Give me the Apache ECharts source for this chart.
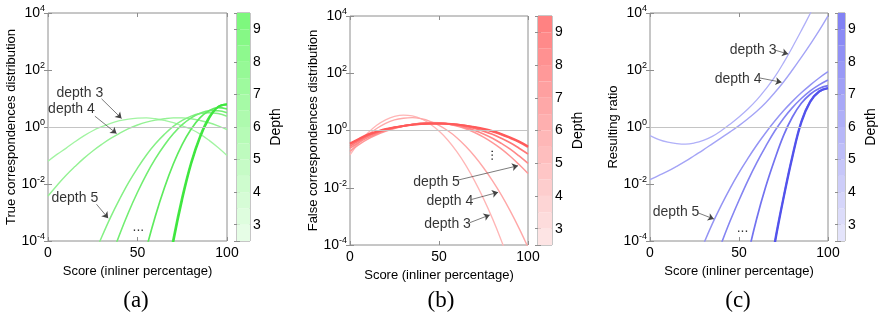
<!DOCTYPE html>
<html>
<head>
<meta charset="utf-8">
<script src="https://cdn.jsdelivr.net/npm/echarts@6/dist/echarts.min.js"></script>
<style>
  html, body { margin: 0; padding: 0; background: #fff; }
  #chart { width: 879px; height: 322px; }
</style>
</head>
<body>
<div id="chart"></div>
<script>
const score = [0, 5, 10, 15, 20, 25, 30, 35, 40, 45, 50, 55, 60, 65, 70, 75, 80, 85, 90, 95, 100];
const depthBandEdges = [2.5, 3, 3.5, 4, 4.5, 5, 5.5, 6, 6.5, 7, 7.5, 8, 8.5, 9, 9.5];

// (a) true correspondences distribution, log10 values, depth 3..9
const trueD3 = [-1.2, -0.96, -0.75, -0.52, -0.31, -0.13, 0.01, 0.13, 0.22, 0.28, 0.31, 0.32, 0.29, 0.23, 0.15, 0.04, -0.08, -0.25, -0.47, -0.72, -1.0];
const trueD4 = [-2.42, -2.05, -1.70, -1.39, -1.10, -0.84, -0.61, -0.40, -0.22, -0.06, 0.07, 0.17, 0.24, 0.29, 0.32, 0.32, 0.29, 0.23, 0.15, 0.04, -0.09];
const trueD5 = [null, null, null, null, null, -4.61, -3.86, -3.16, -2.53, -1.95, -1.44, -0.98, -0.59, -0.26, 0.02, 0.23, 0.38, 0.47, 0.50, 0.47, 0.38];
const trueD6 = [null, null, null, null, null, null, null, -4.63, -3.77, -2.99, -2.29, -1.66, -1.11, -0.64, -0.24, 0.08, 0.32, 0.48, 0.57, 0.57, 0.50];
const trueD7 = [null, null, null, null, null, null, null, null, null, null, -5.52, -4.25, -3.12, -2.14, -1.30, -0.61, -0.07, 0.33, 0.57, 0.68, 0.63];
const trueD8 = [null, null, null, null, null, null, null, null, null, null, null, null, null, -5.67, -3.91, -2.43, -1.22, -0.30, 0.35, 0.71, 0.79];
const trueD9 = [null, null, null, null, null, null, null, null, null, null, null, null, null, -5.85, -4.05, -2.55, -1.30, -0.36, 0.30, 0.70, 0.80];

// (b) false correspondences distribution, log10 values
const falseD3 = [-0.85, -0.43, -0.09, 0.18, 0.37, 0.49, 0.54, 0.51, 0.41, 0.23, -0.02, -0.34, -0.74, -1.21, -1.76, -2.38, -3.07, -3.84, -4.68, -5.6, -6.59];
const falseD4 = [-0.75, -0.42, -0.15, 0.07, 0.25, 0.37, 0.43, 0.45, 0.41, 0.32, 0.18, -0.01, -0.25, -0.55, -0.90, -1.30, -1.75, -2.25, -2.81, -3.42, -4.08];
const falseD5 = [-0.72, -0.49, -0.30, -0.15, -0.03, 0.07, 0.15, 0.21, 0.26, 0.28, 0.27, 0.23, 0.16, 0.06, -0.07, -0.23, -0.42, -0.64, -0.90, -1.19, -1.50];
const falseD6 = [-0.62, -0.42, -0.25, -0.11, 0.0, 0.09, 0.16, 0.21, 0.25, 0.27, 0.26, 0.23, 0.18, 0.10, 0.0, -0.12, -0.27, -0.45, -0.65, -0.89, -1.15];
const falseD7 = [-0.55, -0.36, -0.20, -0.08, 0.02, 0.10, 0.16, 0.21, 0.24, 0.25, 0.25, 0.23, 0.20, 0.14, 0.07, -0.02, -0.13, -0.27, -0.43, -0.62, -0.82];
const falseD8 = [-0.48, -0.31, -0.16, -0.05, 0.04, 0.11, 0.16, 0.20, 0.23, 0.25, 0.25, 0.24, 0.21, 0.17, 0.11, 0.04, -0.04, -0.14, -0.27, -0.41, -0.58];
const falseD9 = [-0.45, -0.29, -0.14, -0.04, 0.05, 0.11, 0.16, 0.20, 0.23, 0.24, 0.24, 0.23, 0.21, 0.17, 0.12, 0.06, -0.02, -0.12, -0.24, -0.38, -0.55];

// (c) resulting ratio, log10 values
const ratioD3 = [-0.30, -0.44, -0.53, -0.58, -0.60, -0.56, -0.47, -0.33, -0.13, 0.10, 0.35, 0.63, 0.95, 1.33, 1.75, 2.25, 2.80, 3.38, 3.98, 4.6, 5.2];
const ratioD4 = [-1.85, -1.70, -1.55, -1.38, -1.20, -1.00, -0.80, -0.59, -0.38, -0.17, 0.05, 0.29, 0.55, 0.85, 1.20, 1.58, 2.00, 2.44, 2.90, 3.38, 3.90];
const ratioD5 = [null, null, null, null, null, -4.9, -4.12, -3.40, -2.75, -2.15, -1.60, -1.10, -0.63, -0.20, 0.20, 0.57, 0.90, 1.20, 1.47, 1.72, 1.94];
const ratioD6 = [null, null, null, null, null, null, null, -4.95, -4.10, -3.30, -2.57, -1.88, -1.25, -0.68, -0.15, 0.30, 0.68, 1.00, 1.27, 1.48, 1.65];
const ratioD7 = [null, null, null, null, null, null, null, null, null, null, -6.0, -4.5, -3.2, -2.1, -1.15, -0.30, 0.35, 0.83, 1.15, 1.35, 1.45];
const ratioD8 = [null, null, null, null, null, null, null, null, null, null, null, null, null, -6.0, -4.05, -2.45, -1.0, 0.2, 0.9, 1.25, 1.37];
const ratioD9 = [null, null, null, null, null, null, null, null, null, null, null, null, null, -6.1, -4.15, -2.52, -1.07, 0.15, 0.88, 1.24, 1.36];

// annotations: label [score, log10], arrow from -> to
const trueNotes = [
  { text: 'depth 3', at: [17.8, 1.2], from: [29.9, 0.99], to: [41.1, 0.30] },
  { text: 'depth 4', at: [13.1, 0.61], from: [26.2, 0.38], to: [38.3, -0.23] },
  { text: 'depth 5', at: [15, -2.5], from: [27.1, -2.71], to: [33.6, -3.2] }
];
const falseNotes = [
  { text: 'depth 5', at: [48.6, -1.79], from: [60.8, -1.73], to: [94.4, -1.23] },
  { text: 'depth 4', at: [56.1, -2.46], from: [68.2, -2.41], to: [83.2, -2.16] },
  { text: 'depth 3', at: [54.8, -3.27], from: [67.3, -3.22], to: [78.5, -2.95] }
];
const ratioNotes = [
  { text: 'depth 3', at: [57.9, 2.70], from: [70.1, 2.70], to: [77.6, 2.56] },
  { text: 'depth 4', at: [49.5, 1.68], from: [61.7, 1.72], to: [73.9, 1.57] },
  { text: 'depth 5', at: [14.6, -3.0], from: [26.5, -3.0], to: [35.9, -3.23] }
];
const trueDots = [50.5, -3.51];
const falseDots = [78.1, -0.86];
const ratioDots = [52, -3.54];

const FONT = '"Liberation Sans", Arial, Helvetica, sans-serif';
const FRAME = '#8e8e8e';
const widths = [1.3, 1.4, 1.5, 1.6, 1.7, 1.9, 2.0];

const panels = [
  {
    curves: [trueD3, trueD4, trueD5, trueD6, trueD7, trueD8, trueD9],
    notes: trueNotes, dots: trueDots, dotsRotate: 0,
    yName: 'True correspondences distribution', tag: '(a)', tagX: 136,
    grid: { left: 48, top: 13, width: 179, height: 228 },
    bar: { left: 237, top: 13, width: 13, height: 228 },
    colors: ['#a2f4a2', '#94f294', '#84f084', '#72ee72', '#5eeb5e', '#4ce94c', '#3ee63e'],
    band: ['#e6fde6', '#7ef87e']
  },
  {
    curves: [falseD3, falseD4, falseD5, falseD6, falseD7, falseD8, falseD9],
    notes: falseNotes, dots: falseDots, dotsRotate: 90,
    yName: 'False correspondences distribution', tag: '(b)', tagX: 441,
    grid: { left: 350, top: 16, width: 178, height: 229 },
    bar: { left: 538, top: 16, width: 14, height: 229 },
    colors: ['#ffb6b6', '#ffa8a8', '#ff9898', '#ff8888', '#ff7777', '#ff6666', '#ff5a5a'],
    band: ['#fde4e4', '#ff8282']
  },
  {
    curves: [ratioD3, ratioD4, ratioD5, ratioD6, ratioD7, ratioD8, ratioD9],
    notes: ratioNotes, dots: ratioDots, dotsRotate: 0,
    yName: 'Resulting ratio', tag: '(c)', tagX: 738,
    grid: { left: 650, top: 13, width: 178, height: 228 },
    bar: { left: 838, top: 13, width: 14, height: 228 },
    colors: ['#b0b0f8', '#a4a4f6', '#9494f4', '#8484f2', '#7272f0', '#6060ee', '#5252ec'],
    band: ['#e4e4fb', '#8282f4']
  }
];

function hexToRgb(h) {
  return [1, 3, 5].map(i => parseInt(h.slice(i, i + 2), 16));
}
function mix(a, b, t) {
  const ca = hexToRgb(a), cb = hexToRgb(b);
  return 'rgb(' + ca.map((v, i) => Math.round(v + (cb[i] - v) * t)).join(',') + ')';
}
const pow10 = e => Math.pow(10, e);

const option = { animation: false, grid: [], xAxis: [], yAxis: [], series: [], graphic: [] };
const tickStyle = { inside: true, length: 4, lineStyle: { color: FRAME, width: 1 } };

panels.forEach((p, k) => {
  const gPlot = option.grid.length;
  option.grid.push(Object.assign({ show: true, borderColor: FRAME, borderWidth: 1, backgroundColor: '#fff' }, p.grid));
  const gBar = option.grid.length;
  option.grid.push(Object.assign({ show: true, borderColor: FRAME, borderWidth: 1 }, p.bar));

  // plot axes, mirrored on top / right for the inner ticks
  const xi = option.xAxis.length;
  option.xAxis.push({
    type: 'value', gridIndex: gPlot, min: 0, max: 100, interval: 50, position: 'bottom',
    axisLine: { show: false }, axisTick: tickStyle, splitLine: { show: false },
    axisLabel: { fontSize: 14, color: '#000', margin: 5, fontFamily: FONT },
    name: 'Score (inliner percentage)', nameLocation: 'middle', nameGap: 20,
    nameTextStyle: { fontSize: 13, color: '#000', fontFamily: FONT }
  });
  option.xAxis.push({
    type: 'value', gridIndex: gPlot, min: 0, max: 100, interval: 50, position: 'top',
    axisLine: { show: false }, axisTick: tickStyle, splitLine: { show: false }, axisLabel: { show: false }
  });
  const yi = option.yAxis.length;
  option.yAxis.push({
    type: 'log', logBase: 10, gridIndex: gPlot, min: 1e-4, max: 1e4, interval: 2, position: 'left',
    axisLine: { show: false }, axisTick: tickStyle, splitLine: { show: false },
    axisLabel: {
      margin: 3, color: '#000',
      formatter: v => '{b|10}{e|' + Math.round(Math.log10(v)) + '}',
      rich: {
        b: { fontSize: 14, fontFamily: FONT, color: '#000' },
        e: { fontSize: 9, fontFamily: FONT, color: '#000', padding: [0, 0, 9, 0] }
      }
    },
    name: p.yName, nameLocation: 'middle', nameGap: 29,
    nameTextStyle: { fontSize: 13, color: '#000', fontFamily: FONT }
  });
  option.yAxis.push({
    type: 'log', logBase: 10, gridIndex: gPlot, min: 1e-4, max: 1e4, interval: 2, position: 'right',
    axisLine: { show: false }, axisTick: tickStyle, splitLine: { show: false }, axisLabel: { show: false }
  });

  // colour bar axes
  const bxi = option.xAxis.length;
  option.xAxis.push({ type: 'value', gridIndex: gBar, min: 0, max: 1, show: false });
  const byi = option.yAxis.length;
  option.yAxis.push({
    type: 'value', gridIndex: gBar, min: 2.5, max: 9.5, splitNumber: 7, position: 'right',
    axisLine: { show: false }, splitLine: { show: false },
    axisTick: { inside: true, length: 3, lineStyle: { color: FRAME } },
    axisLabel: { fontSize: 14, color: '#000', margin: 3, fontFamily: FONT,
      formatter: v => (Number.isInteger(v) ? String(v) : '') },
    name: 'Depth', nameLocation: 'middle', nameGap: 19,
    nameTextStyle: { fontSize: 14, color: '#000', fontFamily: FONT }
  });
  option.yAxis.push({
    type: 'value', gridIndex: gBar, min: 2.5, max: 9.5, splitNumber: 7, position: 'left',
    axisLine: { show: false }, splitLine: { show: false },
    axisTick: { inside: true, length: 3, lineStyle: { color: FRAME } }, axisLabel: { show: false }
  });

  const bandData = depthBandEdges.slice(0, -1).map((lo, i) => [lo, depthBandEdges[i + 1]]);
  option.series.push({
    type: 'custom', xAxisIndex: bxi, yAxisIndex: byi, silent: true, data: bandData,
    renderItem: (params, api) => {
      const a = api.coord([0, api.value(0)]);
      const b = api.coord([1, api.value(1)]);
      return {
        type: 'rect',
        shape: { x: a[0], y: b[1], width: b[0] - a[0], height: a[1] - b[1] },
        style: { fill: mix(p.band[0], p.band[1], params.dataIndex / (bandData.length - 1)) }
      };
    }
  });

  // curves, thin/light for depth 3 up to thick/strong for depth 9
  p.curves.forEach((vals, i) => {
    const s = {
      type: 'line', xAxisIndex: xi, yAxisIndex: yi, smooth: 0.4, symbol: 'none', clip: true, silent: true,
      lineStyle: { color: p.colors[i], width: widths[i] },
      data: score.map((x, j) => (vals[j] == null ? null : [x, pow10(vals[j])])).filter(Boolean)
    };
    if (i === 0) {
      s.markLine = {
        silent: true, symbol: 'none', label: { show: false },
        lineStyle: { color: '#c4c4c4', width: 1, type: 'solid' },
        data: [{ yAxis: 1 }]
      };
    }
    option.series.push(s);
  });

  // annotation text + arrows
  const labelData = p.notes.map(n => ({ value: [n.at[0], pow10(n.at[1])], name: n.text }));
  labelData.push({ value: [p.dots[0], pow10(p.dots[1])], name: '...', label: { rotate: p.dotsRotate } });
  option.series.push({
    type: 'scatter', xAxisIndex: xi, yAxisIndex: yi, silent: true, symbolSize: 1,
    itemStyle: { color: 'rgba(0,0,0,0)' },
    label: { show: true, position: 'inside', formatter: '{b}', fontSize: 14, color: '#000', fontFamily: FONT },
    data: labelData,
    markLine: {
      silent: true, symbol: ['none', 'arrow'], symbolSize: 6, label: { show: false },
      itemStyle: { color: '#222' },
      lineStyle: { color: '#444', width: 0.7, type: 'solid' },
      data: p.notes.map(n => [
        { coord: [n.from[0], pow10(n.from[1])] },
        { coord: [n.to[0], pow10(n.to[1])] }
      ])
    }
  });

  option.graphic.push({
    type: 'text', x: p.tagX, y: 301,
    style: { text: p.tag, font: '23px "Liberation Serif", "DejaVu Serif", serif', fill: '#000', align: 'center', verticalAlign: 'middle' }
  });
});

const chart = echarts.init(document.getElementById('chart'));
chart.setOption(option);
</script>
</body>
</html>
